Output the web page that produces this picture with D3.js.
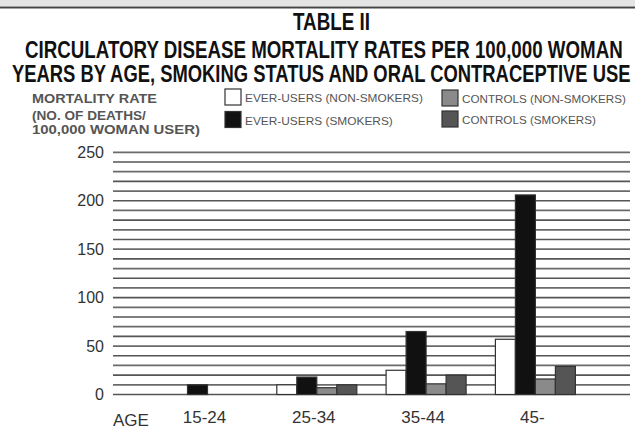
<!DOCTYPE html>
<html lang="en">
<head>
    <meta charset="UTF-8">
    <title>Table II</title>
    <script src="https://cdn.jsdelivr.net/npm/d3@7"></script>
    <style>
        body { margin: 0; background: #fff; }
        text { font-family: "Liberation Sans", Arial, sans-serif; }
    </style>
</head>
<body>
<svg width="635" height="429" id="svgcontainer"></svg>
<script>
    const ages = ['15-24', '25-34', '35-44', '45-'];
    const series = ['EVER-USERS (NON-SMOKERS)', 'EVER-USERS (SMOKERS)', 'CONTROLS (NON-SMOKERS)', 'CONTROLS (SMOKERS)'];
    const everNonSmokers = [0, 10, 25, 57];
    const everSmokers = [10, 18, 65, 206];
    const controlNonSmokers = [0, 7, 11, 16];
    const controlSmokers = [0, 10, 20, 29];
    const yTickValues = [0, 50, 100, 150, 200, 250];
    const colors = ['#ffffff', '#111111', '#8a8a8a', '#555555'];

    const values = [everNonSmokers, everSmokers, controlNonSmokers, controlSmokers];
    const data = ages.map((a, i) => ({age: a, vals: series.map((s, j) => ({s: s, v: values[j][i]}))}));

    const svg = d3.select('#svgcontainer');

    // squeeze / stretch a text horizontally so it spans w pixels
    function fitWidth(sel, w) {
        sel.each(function (d, i) {
            const t = d3.select(this);
            const nat = this.getComputedTextLength();
            const target = typeof w === 'function' ? w(d, i) : w;
            const x = +t.attr('x'), y = +t.attr('y');
            t.attr('x', 0).attr('y', 0)
                .attr('transform', `translate(${x},${y}) scale(${target / nat},1)`);
        });
    }

    // top border of the scan
    svg.append('rect').attr('x', 0).attr('y', 0).attr('width', 635).attr('height', 6).attr('fill', '#e4e4e4');
    svg.append('line').attr('x1', 0).attr('x2', 635).attr('y1', 7.5).attr('y2', 7.5)
        .attr('stroke', '#444').attr('stroke-width', 2);

    // titles
    const titles = [
        {t: 'TABLE II', x: 293, y: 30, w: 77},
        {t: 'CIRCULATORY DISEASE MORTALITY RATES PER 100,000 WOMAN', x: 25, y: 58, w: 598},
        {t: 'YEARS BY AGE, SMOKING STATUS AND ORAL CONTRACEPTIVE USE', x: 12, y: 82, w: 619}
    ];
    svg.selectAll('.title').data(titles).join('text').attr('class', 'title')
        .attr('x', d => d.x).attr('y', d => d.y).text(d => d.t)
        .attr('font-size', 23).attr('font-weight', 'bold').attr('fill', '#111')
        .call(fitWidth, d => d.w);

    // y axis title
    const yTitle = [
        {t: 'MORTALITY RATE', y: 103, w: 125},
        {t: '(NO. OF DEATHS/', y: 120, w: 114},
        {t: '100,000 WOMAN USER)', y: 134, w: 168}
    ];
    svg.selectAll('.ytitle').data(yTitle).join('text').attr('class', 'ytitle')
        .attr('x', 32).attr('y', d => d.y).text(d => d.t)
        .attr('font-size', 13).attr('font-weight', 'bold').attr('fill', '#555')
        .call(fitWidth, d => d.w);

    // legend
    const legendPos = [
        {x: 225, y: 89, w: 178}, {x: 225, y: 111.5, w: 148},
        {x: 442, y: 90, w: 164}, {x: 442, y: 111, w: 134}
    ];
    const legend = svg.selectAll('.legend').data(series).join('g').attr('class', 'legend')
        .attr('transform', (d, i) => `translate(${legendPos[i].x},${legendPos[i].y})`);
    legend.append('rect').attr('width', 16).attr('height', 16)
        .attr('fill', (d, i) => colors[i]).attr('stroke', '#333').attr('stroke-width', 1.2);
    legend.append('text').attr('x', 20).attr('y', 13).text(d => d)
        .attr('font-size', 10).attr('fill', '#555')
        .each(function (d) {
            const i = series.indexOf(d);
            d3.select(this).call(fitWidth, legendPos[i].w);
        });

    // scales
    const yScale = d3.scaleLinear().domain([0, 250]).range([394.5, 152.3]);
    const xScale = d3.scaleBand().domain(ages).range([167.5, 575.4]).paddingInner(0.268).paddingOuter(0);
    const xSub = d3.scaleBand().domain(series).range([0, xScale.bandwidth()]);

    // gridlines
    const g = svg.append('g');
    g.selectAll('.grid').data(d3.range(0, 251, 10)).join('line').attr('class', 'grid')
        .attr('x1', 113).attr('x2', 630)
        .attr('y1', d => yScale(d)).attr('y2', d => yScale(d))
        .attr('stroke', (d, i) => i % 2 ? '#6a6a6a' : '#555')
        .attr('stroke-width', 1.7);

    // y axis labels
    const yAxis = d3.axisLeft(yScale).tickValues(yTickValues).tickSize(0).tickPadding(9);
    const ya = g.append('g').attr('transform', 'translate(113,0)').call(yAxis);
    ya.select('.domain').remove();
    ya.selectAll('.tick text').attr('font-size', 16).attr('fill', '#333')
        .attr('font-family', '"Liberation Sans", Arial, sans-serif');

    // bars
    const groups = g.selectAll('.group').data(data).join('g').attr('class', 'group')
        .attr('transform', d => `translate(${xScale(d.age)},0)`);
    groups.selectAll('rect').data(d => d.vals.filter(v => v.v > 0)).join('rect')
        .attr('x', d => xSub(d.s)).attr('width', xSub.bandwidth())
        .attr('y', d => yScale(d.v)).attr('height', d => yScale(0) - yScale(d.v))
        .attr('fill', d => colors[series.indexOf(d.s)])
        .attr('stroke', '#333').attr('stroke-width', 1.2);

    // x axis labels
    const xAxis = d3.axisBottom(xScale).tickSize(0).tickPadding(0);
    const xa = g.append('g').attr('transform', 'translate(-3,411)').call(xAxis);
    xa.select('.domain').remove();
    xa.selectAll('.tick text').attr('font-size', 17).attr('fill', '#333')
        .attr('font-family', '"Liberation Sans", Arial, sans-serif');

    svg.append('text').attr('x', 113).attr('y', 426).text('AGE')
        .attr('font-size', 17).attr('fill', '#333');
</script>
</body>
</html>
